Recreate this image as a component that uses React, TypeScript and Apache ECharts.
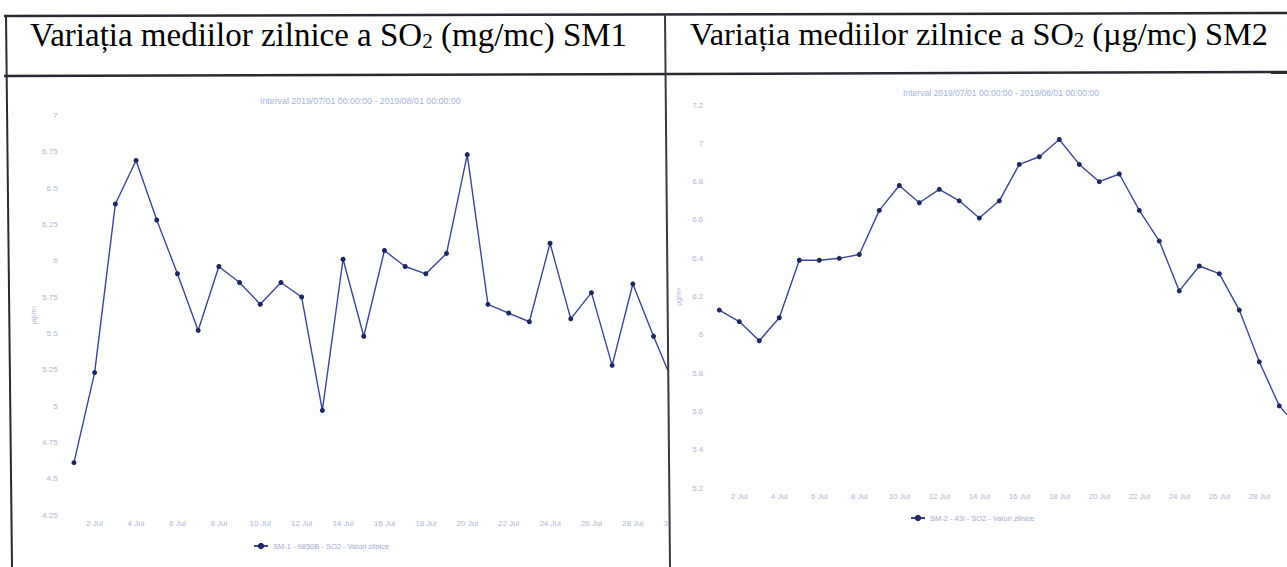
import React, { useEffect, useRef } from "react";
import * as echarts from "echarts";

const days: string[] = [
  "1 Jul", "2 Jul", "3 Jul", "4 Jul", "5 Jul", "6 Jul", "7 Jul", "8 Jul", "9 Jul", "10 Jul",
  "11 Jul", "12 Jul", "13 Jul", "14 Jul", "15 Jul", "16 Jul", "17 Jul", "18 Jul", "19 Jul", "20 Jul",
  "21 Jul", "22 Jul", "23 Jul", "24 Jul", "25 Jul", "26 Jul", "27 Jul", "28 Jul", "29 Jul", "30 Jul", "31 Jul",
];

const sm1Values: number[] = [
  4.61, 5.23, 6.39, 6.69, 6.28, 5.91, 5.52, 5.96, 5.85, 5.70,
  5.85, 5.75, 4.97, 6.01, 5.48, 6.07, 5.96, 5.91, 6.05, 6.73,
  5.70, 5.64, 5.58, 6.12, 5.60, 5.78, 5.28, 5.84, 5.48, 5.14, 5.30,
];

const sm2Values: number[] = [
  6.13, 6.07, 5.97, 6.09, 6.39, 6.39, 6.40, 6.42, 6.65, 6.78,
  6.69, 6.76, 6.70, 6.61, 6.70, 6.89, 6.93, 7.02, 6.89, 6.80,
  6.84, 6.65, 6.49, 6.23, 6.36, 6.32, 6.13, 5.86, 5.63, 5.51, 5.45,
];

const sm1Name = "SM-1 - 9850B - SO2 - Valori zilnice";
const sm2Name = "SM-2 - 43i - SO2 - Valori zilnice";
const intervalText = "Interval 2019/07/01 00:00:00 - 2019/08/01 00:00:00";
const unitName = "µg/m³";

const labelColor = "#aeb7d2";
const lineColor = "#3a4696";
const dotColor = "#1d2760";

export default function App() {
  const ref = useRef<HTMLDivElement>(null);
  useEffect(() => {
    if (!ref.current) return;
    const chart = echarts.init(ref.current, undefined, { renderer: "svg" });
    const serif = "'Liberation Serif', 'Times New Roman', serif";
    const sans = "'Liberation Sans', Arial, sans-serif";
    const xAxisBase = (gridIndex: number, lastLabel: number) => ({
      type: "category" as const,
      gridIndex,
      data: days,
      boundaryGap: true,
      axisLine: { show: false },
      axisTick: { show: false },
      splitLine: { show: false },
      axisLabel: {
        interval: (i: number) => i % 2 === 1 && i <= lastLabel,
        color: labelColor,
        fontSize: 8,
        fontFamily: sans,
        margin: 4,
        hideOverlap: false,
      },
    });
    const yAxisBase = (gridIndex: number, min: number, max: number, interval: number, z: number) => ({
      type: "value" as const,
      gridIndex,
      min,
      max,
      interval,
      z,
      name: unitName,
      nameLocation: "middle" as const,
      nameGap: 27,
      nameTextStyle: { color: labelColor, fontSize: 7, fontFamily: sans },
      axisLine: { show: false },
      axisTick: { show: false },
      splitLine: { show: false },
      axisLabel: { color: labelColor, fontSize: 8, fontFamily: sans, margin: 6 },
    });
    const seriesBase = (name: string, data: number[], idx: number) => ({
      type: "line" as const,
      name,
      xAxisIndex: idx,
      yAxisIndex: idx,
      data,
      symbol: "circle",
      symbolSize: 5,
      lineStyle: { color: lineColor, width: 1.4 },
      itemStyle: { color: dotColor },
      z: 2,
    });
    const titleRich = (unit: string, sm: string, size: number) => ({
      type: "text" as const,
      z: 100,
      style: {
        text: `{t|Variația mediilor zilnice a SO}{s|2}{t| (${unit}) ${sm}}`,
        rich: {
          t: { fontFamily: serif, fontSize: size, color: "#111", lineHeight: 36, verticalAlign: "bottom" },
          s: { fontFamily: serif, fontSize: size * 0.64, color: "#111", lineHeight: 29, verticalAlign: "bottom" },
        },
      },
    });
    chart.setOption({
      animation: false,
      backgroundColor: "#ffffff",
      title: [
        {
          text: intervalText,
          left: 255,
          top: 91,
          textStyle: { color: "#9fb2e0", fontSize: 8.8, fontWeight: "normal", fontFamily: sans },
        },
        {
          text: intervalText,
          left: 898,
          top: 83,
          textStyle: { color: "#9fb2e0", fontSize: 8.6, fontWeight: "normal", fontFamily: sans },
        },
      ],
      legend: [
        {
          data: [sm1Name],
          left: 248,
          top: 537,
          itemWidth: 14,
          itemHeight: 8,
          itemGap: 4,
          textStyle: { color: "#9fa9cc", fontSize: 7.5, fontFamily: sans },
        },
        {
          data: [sm2Name],
          left: 905,
          top: 509,
          itemWidth: 14,
          itemHeight: 8,
          textStyle: { color: "#9fa9cc", fontSize: 7.5, fontFamily: sans },
        },
      ],
      grid: [
        { left: 63.6, width: 641.7, top: 115.4, height: 399.6, outerBoundsMode: "none", containLabel: false },
        { left: 709.3, width: 620, top: 105, height: 383.3, outerBoundsMode: "none", containLabel: false },
      ],
      xAxis: [xAxisBase(0, 30), xAxisBase(1, 27)],
      yAxis: [yAxisBase(0, 4.25, 7, 0.25, 0), yAxisBase(1, 5.2, 7.2, 0.2, 60)],
      series: [seriesBase(sm1Name, sm1Values, 0), seriesBase(sm2Name, sm2Values, 1)],
      graphic: [
        {
          type: "rect",
          z: 50,
          shape: { x: 668, y: 78, width: 42, height: 500 },
          style: { fill: "#ffffff" },
        },
        { ...titleRich("mg/mc", "SM1", 33), left: 30, top: 18 },
        { ...titleRich("µg/mc", "SM2", 32.3), left: 690, top: 18 },
        {
          type: "line",
          z: 100,
          shape: { x1: 4, y1: 16, x2: 1287, y2: 13 },
          style: { stroke: "#2a2a33", lineWidth: 2.5 },
        },
        {
          type: "line",
          z: 100,
          shape: { x1: 4, y1: 76, x2: 1287, y2: 72 },
          style: { stroke: "#2a2a33", lineWidth: 2.5 },
        },
        {
          type: "line",
          z: 100,
          shape: { x1: 6, y1: 15, x2: 12, y2: 567 },
          style: { stroke: "#2a2a33", lineWidth: 2 },
        },
        {
          type: "line",
          z: 100,
          shape: { x1: 665, y1: 14, x2: 670, y2: 567 },
          style: { stroke: "#3a3a40", lineWidth: 2 },
        },
      ],
    });
    return () => chart.dispose();
  }, []);
  return (
    <div
      ref={ref}
      style={{ position: "fixed", left: 0, top: 0, width: 1287, height: 567, background: "#fff" }}
    />
  );
}
